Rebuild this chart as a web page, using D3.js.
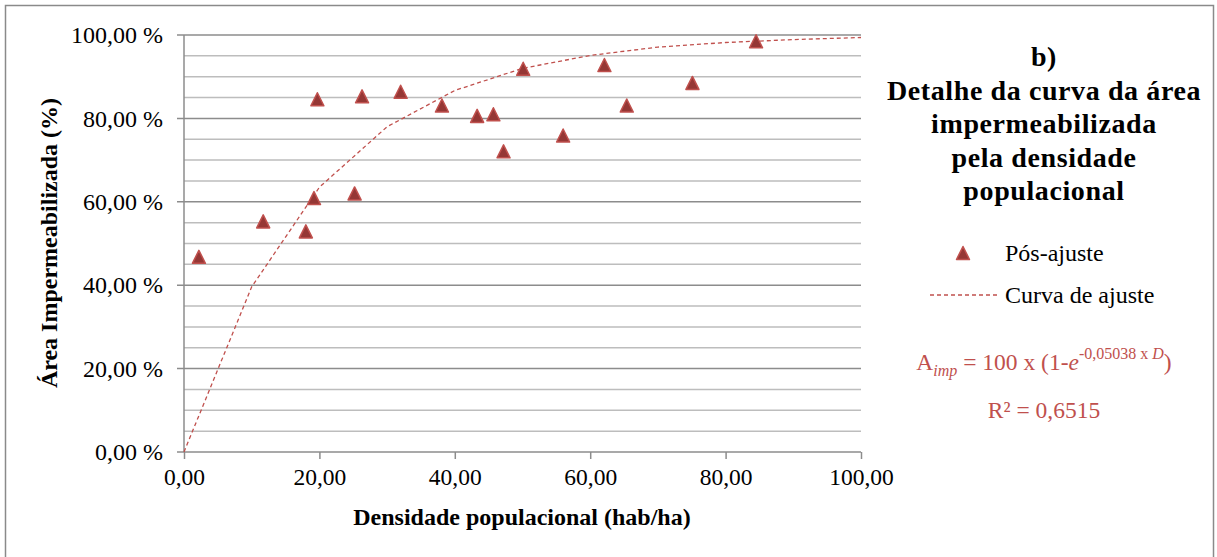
<!DOCTYPE html>
<html>
<head>
<meta charset="utf-8">
<script src="https://cdn.jsdelivr.net/npm/d3@7"></script>
<style>
  body { margin: 0; background: #fff; }
</style>
</head>
<body>
<div id="chart"></div>
<script>
// measured points (Pós-ajuste)
var densidade = [2.2, 11.7, 18.0, 19.2, 19.7, 25.2, 26.3, 32.0, 38.1, 43.3, 45.7, 47.2, 50.1, 56.0, 62.1, 65.4, 75.1, 84.5];
var areaImp   = [46.8, 55.3, 52.9, 60.9, 84.6, 62.0, 85.3, 86.4, 83.1, 80.6, 81.0, 72.1, 91.9, 75.9, 92.8, 83.1, 88.5, 98.5];

// fitted curve
var curvaD = [0, 10, 20, 30, 40, 50, 60, 70, 80, 90, 100];
var curvaA = [0, 39.6, 63.5, 78.0, 86.7, 92.0, 95.1, 97.1, 98.2, 98.9, 99.4];

var xTicks = [0, 20, 40, 60, 80, 100];
var yTicks = [0, 20, 40, 60, 80, 100];
var yMinor = [5, 10, 15, 25, 30, 35, 45, 50, 55, 65, 70, 75, 85, 90, 95];

var titulo = ["b)", "Detalhe da curva da área", "impermeabilizada", "pela densidade", "populacional"];

var width = 1217, height = 557;
var serif = "'Liberation Serif', 'Times New Roman', Tinos";
var fmt = function(v) { return v.toFixed(2).replace(".", ","); };

var svg = d3.select("#chart").append("svg")
    .attr("width", width)
    .attr("height", height);

// outer frame
svg.append("rect")
    .attr("x", 5.5).attr("y", 5.5)
    .attr("width", 1208).attr("height", 560)
    .attr("fill", "#fff")
    .attr("stroke", "#8a8a8a")
    .attr("stroke-width", 1.5);

var x = d3.scaleLinear().domain([0, 100]).range([184, 861]);
var y = d3.scaleLinear().domain([0, 100]).range([452, 35]);

// minor gridlines
svg.append("g").selectAll("line").data(yMinor).join("line")
    .attr("x1", x(0)).attr("x2", x(100))
    .attr("y1", function(d) { return y(d); })
    .attr("y2", function(d) { return y(d); })
    .attr("stroke", "#bdbdbd")
    .attr("stroke-width", 1.5);

// major gridlines
svg.append("g").selectAll("line").data(yTicks).join("line")
    .attr("x1", x(0) - 7).attr("x2", x(100))
    .attr("y1", function(d) { return y(d); })
    .attr("y2", function(d) { return y(d); })
    .attr("stroke", "#8c8c8c")
    .attr("stroke-width", 1.5);

// y axis
var yAxis = svg.append("g")
    .attr("transform", "translate(" + x(0) + ",0)")
    .call(d3.axisLeft(y).tickValues(yTicks).tickSize(7).tickPadding(14)
        .tickFormat(function(d) { return fmt(d) + " %"; }));
yAxis.select(".domain").attr("stroke", "#8c8c8c").attr("stroke-width", 1.5).attr("d", "M0," + y(0) + "V" + y(100));
yAxis.selectAll(".tick line").remove();
yAxis.selectAll(".tick text")
    .attr("fill", "#000")
    .style("font-family", serif).style("font-size", "24px");

// x axis
var xAxis = svg.append("g")
    .attr("transform", "translate(0," + y(0) + ")")
    .call(d3.axisBottom(x).tickValues(xTicks).tickSize(7).tickPadding(9).tickFormat(fmt));
xAxis.select(".domain").remove();
xAxis.selectAll(".tick line").attr("stroke", "#8c8c8c").attr("stroke-width", 1.5);
xAxis.selectAll(".tick text")
    .attr("fill", "#000")
    .style("font-family", serif).style("font-size", "23.5px");

// axis titles
svg.append("text")
    .attr("x", 522).attr("y", 525)
    .attr("text-anchor", "middle")
    .style("font-family", serif).style("font-size", "24px").style("font-weight", "bold")
    .text("Densidade populacional (hab/ha)");

svg.append("text")
    .attr("transform", "translate(57,243) rotate(-90)")
    .attr("text-anchor", "middle")
    .style("font-family", serif).style("font-size", "24px").style("font-weight", "bold")
    .text("Área Impermeabilizada (%)");

// fitted curve
var line = d3.line()
    .x(function(d, i) { return x(curvaD[i]); })
    .y(function(d) { return y(d); });

svg.append("path")
    .datum(curvaA)
    .attr("d", line)
    .attr("fill", "none")
    .attr("stroke", "#c0504d")
    .attr("stroke-width", 1.3)
    .attr("stroke-dasharray", "4,3");

// markers: triangle centred on its bounding box, like the spreadsheet marker
var triangulo = {
  draw: function(context, size) {
    var s = Math.sqrt(size);
    context.moveTo(0, -s / 2);
    context.lineTo(s / 2, s / 2);
    context.lineTo(-s / 2, s / 2);
    context.closePath();
  }
};
var tri = d3.symbol().type(triangulo).size(169);
svg.append("g").selectAll("path").data(densidade).join("path")
    .attr("transform", function(d, i) { return "translate(" + x(d) + "," + y(areaImp[i]) + ")"; })
    .attr("d", tri)
    .attr("fill", "#953735")
    .attr("stroke", "#c0504d")
    .attr("stroke-width", 1.5)
    .attr("stroke-linejoin", "round");

// title block
svg.append("g").selectAll("text").data(titulo).join("text")
    .attr("x", 1044)
    .attr("y", function(d, i) { return 66 + i * 33.5; })
    .attr("text-anchor", "middle")
    .style("font-family", serif).style("font-size", "28px").style("font-weight", "bold")
    .style("letter-spacing", "0.6px")
    .text(function(d) { return d; });

// legend
svg.append("path")
    .attr("transform", "translate(963,253)")
    .attr("d", tri)
    .attr("fill", "#953735")
    .attr("stroke", "#c0504d")
    .attr("stroke-width", 1.5)
    .attr("stroke-linejoin", "round");
svg.append("text")
    .attr("x", 1005).attr("y", 261)
    .style("font-family", serif).style("font-size", "24px")
    .text("Pós-ajuste");

svg.append("line")
    .attr("x1", 930).attr("x2", 998)
    .attr("y1", 295).attr("y2", 295)
    .attr("stroke", "#c0504d")
    .attr("stroke-width", 1.3)
    .attr("stroke-dasharray", "4,3");
svg.append("text")
    .attr("x", 1005).attr("y", 303)
    .style("font-family", serif).style("font-size", "24px")
    .text("Curva de ajuste");

// equation
var eq = svg.append("text")
    .attr("x", 1044).attr("y", 370)
    .attr("text-anchor", "middle")
    .attr("fill", "#c0504d")
    .style("font-family", serif).style("font-size", "23.5px");
eq.append("tspan").text("A");
eq.append("tspan").style("font-size", "16px").style("font-style", "italic").attr("dy", 6).text("imp");
eq.append("tspan").attr("dy", -6).text(" = 100 x (1-");
eq.append("tspan").style("font-style", "italic").text("e");
eq.append("tspan").style("font-size", "16px").attr("dy", -11).text("-0,05038 x ");
eq.append("tspan").style("font-size", "16px").style("font-style", "italic").text("D");
eq.append("tspan").attr("dy", 11).text(")");

svg.append("text")
    .attr("x", 1044).attr("y", 418)
    .attr("text-anchor", "middle")
    .attr("fill", "#c0504d")
    .style("font-family", serif).style("font-size", "23.5px")
    .text("R² = 0,6515");
</script>
</body>
</html>
